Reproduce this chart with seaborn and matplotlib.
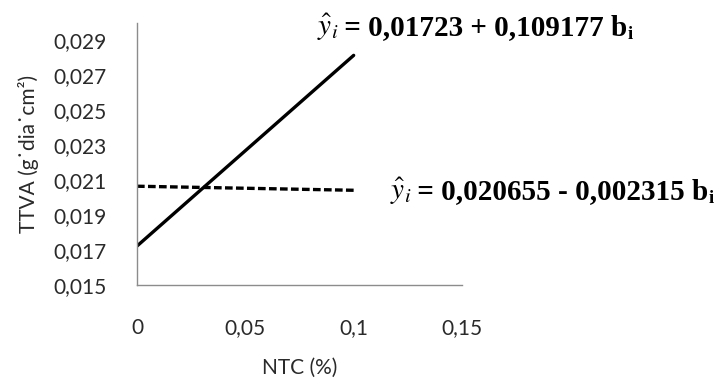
import numpy as np
import pandas as pd
import matplotlib
matplotlib.use("Agg")
import matplotlib.pyplot as plt
import seaborn as sns

# Fitted regression lines: TTVA as a function of NTC
series = ["linear", "flat"]
intercepts = [0.01723, 0.020655]
slopes = [0.109177, -0.002315]
x_range = [0.0, 0.1]

x_ticks = [0.0, 0.05, 0.10, 0.15]
x_tick_labels = ["0", "0,05", "0,1", "0,15"]
y_ticks = [0.015, 0.017, 0.019, 0.021, 0.023, 0.025, 0.027, 0.029]
y_tick_labels = ["0,015", "0,017", "0,019", "0,021", "0,023", "0,025", "0,027", "0,029"]

equation_bodies = ["= 0,01723 + 0,109177 b", "= 0,020655 - 0,002315 b"]

rows = []
for name, b0, b1 in zip(series, intercepts, slopes):
    for x in x_range:
        rows.append({"serie": name, "NTC": x, "TTVA": b0 + b1 * x})
df = pd.DataFrame(rows)

sns.set_theme(style="white")
plt.rcParams["font.family"] = ["Lato", "DejaVu Sans"]
plt.rcParams["mathtext.fontset"] = "stix"

W, H = 719, 389
fig = plt.figure(figsize=(W / 100, H / 100), dpi=100)
ax = fig.add_axes([137 / W, 1 - 285 / H, (462 - 137) / W, (285 - 23) / H])

sns.lineplot(
    data=df, x="NTC", y="TTVA", style="serie",
    dashes={"linear": "", "flat": (2.3, 1.0)},
    color="black", linewidth=2.4, legend=False, ax=ax,
)

ax.set_xlim(0, 0.15)
ax.set_ylim(0.015, 0.030)
ax.set_xticks(x_ticks)
ax.set_xticklabels(x_tick_labels)
ax.set_yticks(y_ticks)
ax.set_yticklabels(y_tick_labels)
ax.tick_params(axis="both", length=0, labelsize=15, colors="#2a2a2a")
ax.tick_params(axis="x", pad=24)
ax.tick_params(axis="y", pad=22)

for side in ["top", "right"]:
    ax.spines[side].set_visible(False)
for side in ["left", "bottom"]:
    ax.spines[side].set_color("#8c8c8c")
    ax.spines[side].set_linewidth(1.0)

ax.set_xlabel("NTC (%)", fontsize=15, color="#2a2a2a", labelpad=14)
ax.set_ylabel("TTVA (g˙dia˙cm²)", fontsize=15, color="#2a2a2a", labelpad=10)


def equation(x_px, y_px, body):
    """Regression equation: italic y-hat with subscript, then bold serif terms."""
    yb = 1 - y_px / H
    yhat = fig.text(x_px / W, yb, r"$\hat{y}_i$", fontsize=21,
                    va="baseline", ha="left", color="black")
    main = ax.annotate(" " + body, xy=(1, yb), xycoords=(yhat, "figure fraction"),
                       xytext=(-1, 0), textcoords="offset points",
                       va="baseline", ha="left", fontsize=21, fontweight="bold",
                       family="Liberation Serif", color="black",
                       annotation_clip=False)
    ax.annotate("i", xy=(1, yb), xycoords=(main, "figure fraction"),
                xytext=(0.5, -3), textcoords="offset points",
                va="baseline", ha="left", fontsize=13.5, fontweight="bold",
                family="Liberation Serif", color="black", annotation_clip=False)


equation(317, 35, equation_bodies[0])
equation(390, 199, equation_bodies[1])

fig.savefig("out.png", dpi=100, facecolor="white")
